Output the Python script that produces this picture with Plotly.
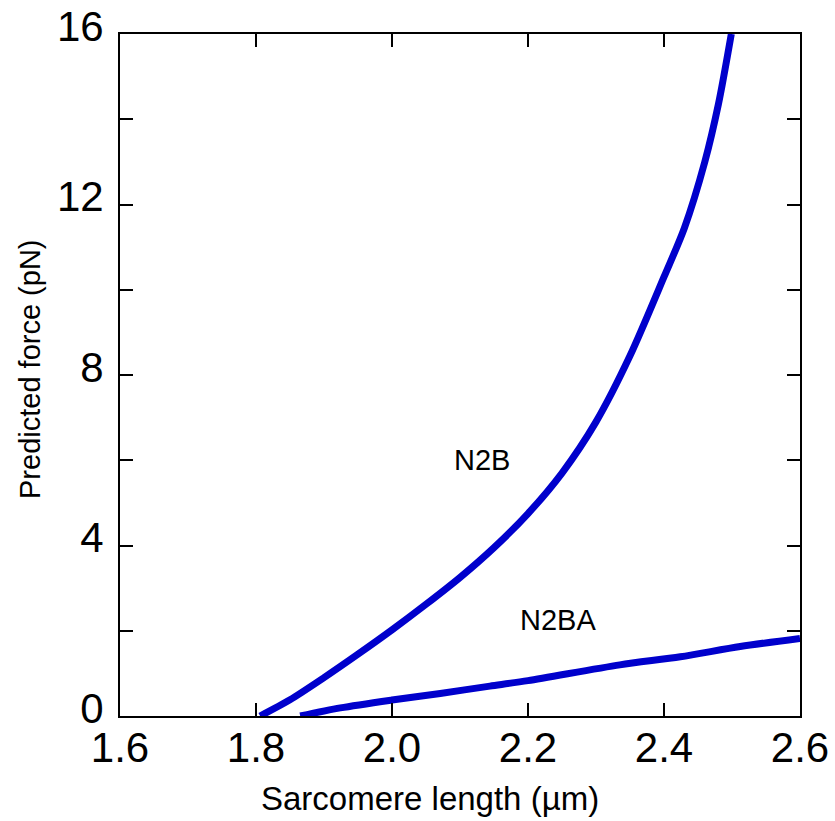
import plotly.graph_objects as go

# N2B curve
n2b_x = [1.806, 1.85, 1.90, 1.95, 2.00, 2.05, 2.10, 2.15, 2.20, 2.25, 2.30,
         2.35, 2.40, 2.43, 2.46, 2.48, 2.499]
n2b_y = [0.0, 0.38, 0.90, 1.45, 2.02, 2.62, 3.25, 3.95, 4.75, 5.70, 6.90,
         8.45, 10.3, 11.45, 13.0, 14.35, 16.0]

# N2BA curve
n2ba_x = [1.865, 1.924, 2.000, 2.071, 2.144, 2.200, 2.335, 2.424, 2.512, 2.600]
n2ba_y = [0.0, 0.19, 0.375, 0.53, 0.70, 0.83, 1.20, 1.39, 1.63, 1.82]

labels = ["N2B", "N2BA"]
label_x = [2.132, 2.244]
label_y = [6.0, 2.25]

x_ticks = [1.6, 1.8, 2.0, 2.2, 2.4, 2.6]
x_ticktext = ["1.6", "1.8", "2.0", "2.2", "2.4", "2.6"]

FONT = "Liberation Sans, Arial, Helvetica, sans-serif"
BLUE = "#0000CC"

fig = go.Figure()
fig.add_trace(go.Scatter(x=n2b_x, y=n2b_y, mode="lines",
                         line=dict(color=BLUE, width=7, shape="spline", smoothing=0.8),
                         showlegend=False))
fig.add_trace(go.Scatter(x=n2ba_x, y=n2ba_y, mode="lines",
                         line=dict(color=BLUE, width=7, shape="spline", smoothing=0.8),
                         showlegend=False))

for t, lx, ly in zip(labels, label_x, label_y):
    fig.add_annotation(x=lx, y=ly, text=t, showarrow=False,
                       font=dict(family=FONT, size=29, color="black"))

# axis titles as annotations for precise placement
fig.add_annotation(xref="paper", yref="paper", x=0.456, y=0, yanchor="middle",
                   yshift=-82, text="Sarcomere length (µm)", showarrow=False,
                   font=dict(family=FONT, size=33, color="black"))
fig.add_annotation(xref="paper", yref="paper", x=0, y=0.5, xanchor="center",
                   yanchor="middle", xshift=-90, yshift=6, textangle=-90,
                   text="Predicted force (pN)", showarrow=False,
                   font=dict(family=FONT, size=29, color="black"))

fig.update_layout(
    width=835, height=821,
    margin=dict(l=120, r=35, t=34, b=105),
    paper_bgcolor="white", plot_bgcolor="white",
    font=dict(family=FONT, color="black"),
    showlegend=False,
)

fig.update_xaxes(
    range=[1.6, 2.6], tickvals=x_ticks, ticktext=x_ticktext,
    ticks="inside", ticklen=13, tickwidth=2, tickcolor="black",
    showline=True, linewidth=2, linecolor="black", mirror="ticks",
    showgrid=False, zeroline=False, automargin=False,
    tickfont=dict(family=FONT, size=42, color="black"),
    ticklabelstandoff=-6,
)
fig.update_yaxes(
    range=[0, 16], tickvals=[0, 4, 8, 12, 16],
    ticks="inside", ticklen=13, tickwidth=2, tickcolor="black",
    minor=dict(tickvals=[2, 6, 10, 14], ticks="inside", ticklen=13, tickwidth=2,
               tickcolor="black", showgrid=False),
    showline=True, linewidth=2, linecolor="black", mirror="ticks",
    showgrid=False, zeroline=False, automargin=False,
    tickfont=dict(family=FONT, size=42, color="black"),
    ticklabelstandoff=6, ticklabelshift=-8,
)

fig.write_html("out.html")
